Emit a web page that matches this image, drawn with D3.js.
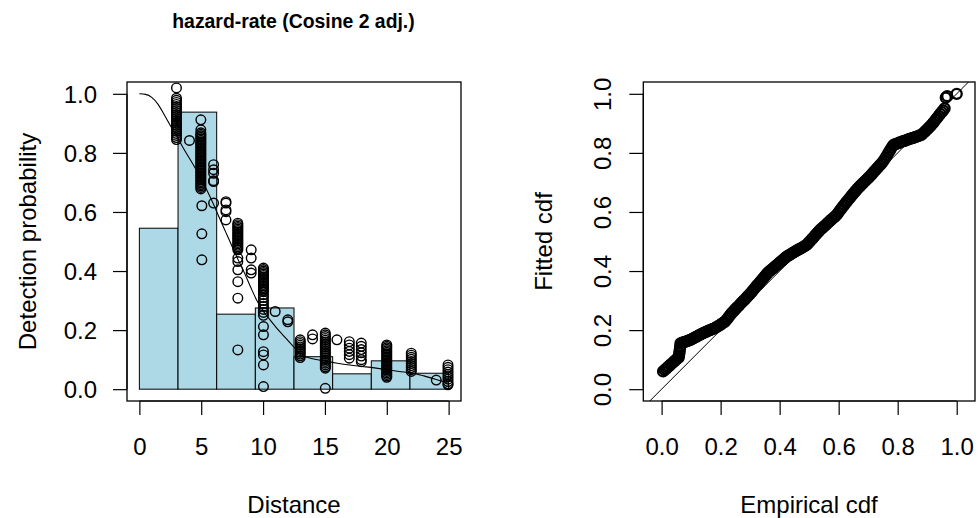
<!DOCTYPE html>
<html>
<head>
  <meta charset="utf-8">
  <title>hazard-rate (Cosine 2 adj.)</title>
  <script src="https://d3js.org/d3.v7.min.js"></script>
  <style>
    body { margin: 0; background: #fff; }
    text { font-family: "Liberation Sans", Arial, sans-serif; fill: #000; }
  </style>
</head>
<body>
<div id="chart"></div>
<script>
  // histogram of scaled counts
  const histBreaks = [0, 3.125, 6.25, 9.375, 12.5, 15.625, 18.75, 21.875, 25];
  const histHeights = [0.545, 0.938, 0.254, 0.275, 0.110, 0.052, 0.096, 0.054];

  // fitted detection function
  const curveDist = [0, 0.5, 1, 1.5, 2, 2.5, 3, 3.5, 4, 4.5, 5, 5.5, 6, 6.5, 7, 7.5, 8, 8.5, 9, 9.5,
    10, 10.5, 11, 11.5, 12, 12.5, 13, 14, 15, 16, 17, 18, 19, 20, 21, 22, 23, 24, 25];
  const curveProb = [1.0, 0.998, 0.988, 0.965, 0.93, 0.893, 0.858, 0.82, 0.785, 0.75, 0.71, 0.67, 0.625,
    0.577, 0.53, 0.483, 0.437, 0.393, 0.345, 0.3, 0.265, 0.238, 0.212, 0.188, 0.165, 0.142, 0.118,
    0.103, 0.095, 0.088, 0.082, 0.077, 0.072, 0.066, 0.06, 0.055, 0.045, 0.033, 0.02];

  // fitted detection probabilities of the observations, grouped by distance
  const pointDist = [3.0, 4.05, 4.97, 5.05, 6.0, 7.0, 7.96, 9.04, 10.03, 10.98, 12.0, 13.0, 14.0,
    15.03, 15.97, 16.97, 17.94, 20.0, 21.98, 24.0, 24.95];
  const pointProb = [
    [1.02, 0.985, 0.978, 0.971, 0.964, 0.957, 0.950, 0.943, 0.936, 0.929, 0.922, 0.915, 0.908, 0.901,
     0.894, 0.887, 0.880, 0.873, 0.866, 0.859, 0.852, 0.845],
    [0.842],
    [0.912, 0.878, 0.868, 0.863, 0.858, 0.853, 0.848, 0.843, 0.838, 0.833, 0.828, 0.823, 0.818, 0.813,
     0.808, 0.803, 0.798, 0.793, 0.788, 0.783, 0.778, 0.773, 0.768, 0.763, 0.758, 0.753, 0.748, 0.743,
     0.738, 0.733, 0.728, 0.723, 0.718, 0.713, 0.708, 0.703, 0.698, 0.693, 0.688, 0.683, 0.678],
    [0.621, 0.526, 0.438],
    [0.76, 0.743, 0.731, 0.706, 0.703, 0.63],
    [0.635, 0.63, 0.607, 0.601, 0.573],
    [0.562, 0.557, 0.552, 0.547, 0.542, 0.537, 0.532, 0.527, 0.522, 0.517, 0.512, 0.507, 0.502, 0.497,
     0.492, 0.487, 0.482, 0.477, 0.472, 0.444, 0.432, 0.404, 0.364, 0.308, 0.133],
    [0.472, 0.444, 0.404, 0.393],
    [0.41, 0.405, 0.40, 0.395, 0.39, 0.385, 0.38, 0.375, 0.37, 0.365, 0.36, 0.355, 0.35, 0.345, 0.34,
     0.335, 0.33, 0.32, 0.31, 0.30, 0.29, 0.28, 0.27, 0.26, 0.25,
     0.212, 0.184, 0.127, 0.116, 0.082, 0.009],
    [0.263],
    [0.235, 0.228],
    [0.167, 0.161, 0.155, 0.149, 0.143, 0.137, 0.131, 0.125, 0.119, 0.113, 0.107],
    [0.184, 0.17],
    [0.19, 0.184, 0.178, 0.172, 0.166, 0.16, 0.154, 0.148, 0.142, 0.136, 0.13, 0.124, 0.118, 0.112,
     0.106, 0.10, 0.094, 0.088, 0.082, 0.076, 0.071, 0.003],
    [0.167],
    [0.161, 0.15, 0.139, 0.128, 0.117, 0.105],
    [0.156, 0.145, 0.134, 0.123, 0.112, 0.1, 0.093],
    [0.15, 0.145, 0.14, 0.135, 0.13, 0.125, 0.12, 0.115, 0.11, 0.105, 0.10, 0.095, 0.09, 0.085, 0.08,
     0.075, 0.07, 0.065, 0.06, 0.055, 0.05, 0.045, 0.04],
    [0.122, 0.115, 0.108, 0.101, 0.094, 0.087, 0.08, 0.073, 0.066, 0.06],
    [0.031],
    [0.082, 0.074, 0.066, 0.058, 0.05, 0.042, 0.034, 0.026, 0.018, 0.015]
  ];

  // Q-Q plot: empirical vs fitted cdf
  const qqEmpirical = [
    0.005, 0.010, 0.015, 0.020, 0.025, 0.030, 0.035, 0.040, 0.045, 0.050, 0.055,
    0.058, 0.059, 0.060, 0.061, 0.062, 0.063, 0.064,
    0.069, 0.074, 0.079, 0.084, 0.089, 0.094,
    0.099, 0.104, 0.109, 0.114, 0.119, 0.124, 0.129, 0.134, 0.139,
    0.144, 0.149, 0.154, 0.159, 0.164, 0.169, 0.174, 0.179,
    0.184, 0.189, 0.194, 0.199, 0.204, 0.209, 0.214,
    0.219, 0.224, 0.229, 0.234,
    0.239, 0.244, 0.249, 0.254, 0.259, 0.264, 0.269, 0.274, 0.279, 0.284, 0.289, 0.294, 0.299,
    0.304, 0.309, 0.314, 0.319, 0.324, 0.329, 0.334, 0.339, 0.344, 0.349, 0.354, 0.359,
    0.364, 0.369, 0.374, 0.379, 0.384, 0.389, 0.394, 0.399, 0.404, 0.409, 0.414, 0.419, 0.424,
    0.429, 0.434, 0.439, 0.444, 0.449, 0.454, 0.459, 0.464, 0.469, 0.474, 0.479, 0.484, 0.489,
    0.494, 0.499, 0.504, 0.509, 0.514, 0.519, 0.524, 0.529, 0.534,
    0.539, 0.544, 0.549, 0.554, 0.559, 0.564, 0.569, 0.574, 0.579, 0.584, 0.589,
    0.594, 0.599, 0.604, 0.609, 0.614, 0.619, 0.624,
    0.629, 0.634, 0.639, 0.644, 0.649, 0.654, 0.659, 0.664,
    0.669, 0.674, 0.679, 0.684, 0.689, 0.694, 0.699, 0.704,
    0.709, 0.714, 0.719, 0.724, 0.729, 0.734, 0.739, 0.744, 0.749,
    0.754, 0.759, 0.764, 0.769, 0.774, 0.779, 0.784,
    0.789, 0.794, 0.799, 0.804, 0.809, 0.814, 0.819, 0.824, 0.829,
    0.834, 0.839, 0.844, 0.849, 0.854, 0.859, 0.864, 0.869, 0.874, 0.879,
    0.884, 0.889, 0.894, 0.899, 0.904, 0.909, 0.914,
    0.919, 0.924, 0.929, 0.934, 0.939, 0.944, 0.949, 0.954, 0.959,
    0.963, 0.968, 1.0];
  const qqFitted = [
    0.060, 0.065, 0.069, 0.074, 0.078, 0.083, 0.087, 0.092, 0.096, 0.101, 0.105,
    0.108, 0.114, 0.121, 0.128, 0.136, 0.145, 0.155,
    0.157, 0.159, 0.160, 0.162, 0.164, 0.165,
    0.168, 0.170, 0.173, 0.176, 0.178, 0.181, 0.184, 0.186, 0.189,
    0.191, 0.193, 0.196, 0.198, 0.200, 0.202, 0.204, 0.206,
    0.209, 0.212, 0.215, 0.218, 0.222, 0.225, 0.228,
    0.234, 0.240, 0.247, 0.253,
    0.259, 0.264, 0.270, 0.275, 0.280, 0.285, 0.291, 0.296, 0.301, 0.306, 0.312, 0.317, 0.322,
    0.328, 0.334, 0.340, 0.346, 0.352, 0.357, 0.363, 0.369, 0.375, 0.381, 0.387, 0.393,
    0.398, 0.402, 0.406, 0.410, 0.415, 0.419, 0.423, 0.428, 0.432, 0.436, 0.440, 0.445, 0.449,
    0.452, 0.455, 0.458, 0.461, 0.464, 0.467, 0.470, 0.473, 0.475, 0.478, 0.481, 0.484, 0.487,
    0.491, 0.497, 0.502, 0.508, 0.513, 0.519, 0.525, 0.530, 0.536,
    0.541, 0.545, 0.550, 0.554, 0.559, 0.564, 0.568, 0.573, 0.577, 0.582, 0.586,
    0.591, 0.598, 0.605, 0.611, 0.618, 0.624, 0.631,
    0.637, 0.643, 0.649, 0.655, 0.661, 0.667, 0.673, 0.679,
    0.684, 0.689, 0.694, 0.699, 0.704, 0.709, 0.714, 0.719,
    0.724, 0.730, 0.736, 0.741, 0.747, 0.752, 0.758, 0.763, 0.769,
    0.776, 0.784, 0.792, 0.801, 0.809, 0.817, 0.825,
    0.829, 0.830, 0.832, 0.834, 0.836, 0.838, 0.840, 0.841, 0.843,
    0.845, 0.847, 0.848, 0.850, 0.852, 0.853, 0.855, 0.857, 0.859, 0.860,
    0.864, 0.869, 0.874, 0.879, 0.884, 0.889, 0.894,
    0.900, 0.906, 0.913, 0.919, 0.925, 0.932, 0.938, 0.944, 0.951,
    0.987, 0.992, 1.0];

  const distTicks = [0, 5, 10, 15, 20, 25];
  const probTicks = [0, 0.2, 0.4, 0.6, 0.8, 1.0];

  const W = 979, H = 518;
  const svg = d3.select("#chart").append("svg").attr("width", W).attr("height", H);

  const x1 = d3.scaleLinear().domain([-1, 26]).range([127, 461]);
  const y1 = d3.scaleLinear().domain([-0.04, 1.04]).range([401, 82]);
  const x2 = d3.scaleLinear().domain([-0.062, 1.062]).range([643.3, 975]);
  const y2 = d3.scaleLinear().domain([-0.04, 1.04]).range([401, 82]);

  const fmt = d3.format(".1f");
  const R = 4.8;

  // R style axes: line only between first and last tick
  function bottomAxis(g, scale, ticks, y, format) {
    const ax = g.append("g").attr("transform", `translate(0,${y})`)
      .call(d3.axisBottom(scale).tickValues(ticks).tickSize(14).tickSizeOuter(0).tickFormat(format));
    ax.select(".domain").remove();
    ax.selectAll(".tick line").attr("stroke", "#000").attr("stroke-width", 1.2);
    ax.selectAll(".tick text").attr("y", 54).attr("dy", 0).attr("font-size", 24)
      .style("font-family", "'Liberation Sans', Arial, sans-serif");
    ax.append("line").attr("x1", scale(ticks[0])).attr("x2", scale(ticks[ticks.length - 1]))
      .attr("stroke", "#000").attr("stroke-width", 1.2);
    return ax;
  }
  function leftAxis(g, scale, ticks, x, rotated) {
    const ax = g.append("g").attr("transform", `translate(${x},0)`)
      .call(d3.axisLeft(scale).tickValues(ticks).tickSize(14).tickSizeOuter(0).tickFormat(fmt));
    ax.select(".domain").remove();
    ax.selectAll(".tick line").attr("stroke", "#000").attr("stroke-width", 1.2);
    const t = ax.selectAll(".tick text").attr("font-size", 24)
      .style("font-family", "'Liberation Sans', Arial, sans-serif");
    if (rotated) {
      t.attr("x", null).attr("dy", 0).attr("text-anchor", "middle")
        .attr("transform", "translate(-32,0) rotate(-90)");
    } else {
      t.attr("x", -30).attr("dy", "0.35em");
    }
    ax.append("line").attr("y1", scale(ticks[0])).attr("y2", scale(ticks[ticks.length - 1]))
      .attr("stroke", "#000").attr("stroke-width", 1.2);
    return ax;
  }

  // ---- left panel ----
  const left = svg.append("g");
  const bins = histHeights.map((h, i) => ({ x0: histBreaks[i], x1: histBreaks[i + 1], h }));
  left.selectAll("rect.bar").data(bins).join("rect")
    .attr("class", "bar")
    .attr("x", d => x1(d.x0))
    .attr("width", d => x1(d.x1) - x1(d.x0))
    .attr("y", d => y1(d.h))
    .attr("height", d => y1(0) - y1(d.h))
    .attr("fill", "#add8e6")
    .attr("stroke", "#000")
    .attr("stroke-width", 1);

  const line = d3.line().x((d, i) => x1(curveDist[i])).y(d => y1(d)).curve(d3.curveMonotoneX);
  left.append("path").datum(curveProb)
    .attr("fill", "none").attr("stroke", "#000").attr("stroke-width", 1.1)
    .attr("d", line);

  const pts = pointDist.flatMap((d, i) => pointProb[i].map(p => ({ d, p })));
  left.selectAll("circle").data(pts).join("circle")
    .attr("cx", d => x1(d.d)).attr("cy", d => y1(d.p)).attr("r", R)
    .attr("fill", "none").attr("stroke", "#000").attr("stroke-width", 1.4);

  left.append("rect").attr("x", 127).attr("y", 82).attr("width", 334).attr("height", 319)
    .attr("fill", "none").attr("stroke", "#000").attr("stroke-width", 1.3);

  bottomAxis(left, x1, distTicks, 401, d3.format("d"));
  leftAxis(left, y1, probTicks, 127, false);

  left.append("text").attr("x", 293.5).attr("y", 28).attr("text-anchor", "middle")
    .attr("font-size", 19.4).attr("font-weight", "bold").text("hazard-rate (Cosine 2 adj.)");
  left.append("text").attr("x", 294).attr("y", 513).attr("text-anchor", "middle")
    .attr("font-size", 24).text("Distance");
  left.append("text").attr("transform", "translate(36,241.5) rotate(-90)").attr("text-anchor", "middle")
    .attr("font-size", 24).text("Detection probability");

  // ---- right panel ----
  const right = svg.append("g");
  svg.append("clipPath").attr("id", "qqclip").append("rect")
    .attr("x", 643.3).attr("y", 82).attr("width", 975 - 643.3).attr("height", 319);
  right.append("line").attr("clip-path", "url(#qqclip)")
    .attr("x1", x2(-0.1)).attr("y1", y2(-0.1)).attr("x2", x2(1.1)).attr("y2", y2(1.1))
    .attr("stroke", "#000").attr("stroke-width", 1);

  const qq = qqEmpirical.map((e, i) => ({ e, f: qqFitted[i] }));
  right.selectAll("circle").data(qq).join("circle")
    .attr("cx", d => x2(d.e)).attr("cy", d => y2(d.f)).attr("r", 5)
    .attr("fill", "none").attr("stroke", "#000").attr("stroke-width", 2.3);

  right.append("rect").attr("x", 643.3).attr("y", 82).attr("width", 975 - 643.3).attr("height", 319)
    .attr("fill", "none").attr("stroke", "#000").attr("stroke-width", 1.3);

  bottomAxis(right, x2, probTicks, 401, fmt);
  leftAxis(right, y2, probTicks, 643.3, true);

  right.append("text").attr("x", 809).attr("y", 513).attr("text-anchor", "middle")
    .attr("font-size", 24).text("Empirical cdf");
  right.append("text").attr("transform", "translate(552,241.5) rotate(-90)").attr("text-anchor", "middle")
    .attr("font-size", 24).text("Fitted cdf");
</script>
</body>
</html>
